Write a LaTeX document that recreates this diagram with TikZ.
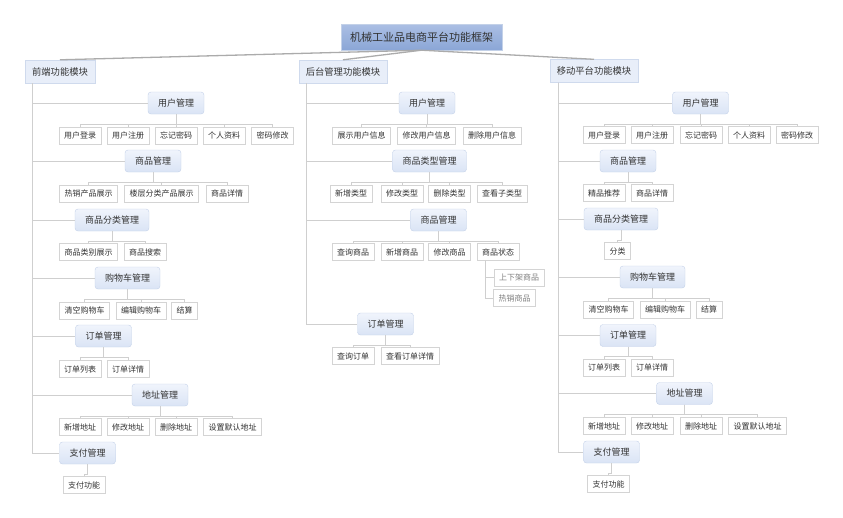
\documentclass[tikz,border=0pt]{standalone}
\usepackage{fontspec}
\setmainfont{Noto Sans CJK SC}
\usepackage{xcolor}
\definecolor{linegray}{HTML}{CFCFCF}
\definecolor{toplinegray}{HTML}{ABABAB}
\definecolor{leafborder}{HTML}{D4D4D4}
\definecolor{catborder}{HTML}{C3D1E8}
\definecolor{cattop}{HTML}{F0F4FC}
\definecolor{catbottom}{HTML}{DAE4F5}
\definecolor{modfill}{HTML}{E8EEF9}
\definecolor{titletop}{HTML}{ABBFE4}
\definecolor{titlebottom}{HTML}{8BA6D6}
\definecolor{textgray}{HTML}{333333}

\tikzset{
    titlebox/.style={draw=catborder, top color=titletop, bottom color=titlebottom,
        font=\fontsize{11}{11}\selectfont, text=textgray, inner xsep=9pt, minimum height=26pt},
    modbox/.style={draw=catborder!80, fill=modfill, font=\fontsize{9.3}{9.3}\selectfont,
        text=textgray, inner xsep=7pt, minimum height=23pt},
    catbox/.style={draw=catborder, top color=cattop, bottom color=catbottom, rounded corners=3pt,
        font=\fontsize{9}{9}\selectfont, text=textgray, inner xsep=10pt, minimum height=22pt},
    leaf/.style={draw=leafborder, fill=white, font=\fontsize{8}{8}\selectfont,
        text=textgray, inner xsep=5pt, minimum height=17pt},
    subleaf/.style={leaf, text=gray},
    link/.style={draw=linegray, line width=0.9pt},
    toplink/.style={draw=toplinegray, line width=1.3pt}
}

\begin{document}
\begin{tikzpicture}[x=1pt, y=-1pt]
    \useasboundingbox (0,0) rectangle (843,517); % page size of the reference

    \node[titlebox] (title) at (421.5,37) {机械工业品电商平台功能框架};
    \node[modbox] (front) at (60,71.5) {前端功能模块};
    \node[modbox] (back) at (343,71.5) {后台管理功能模块};
    \node[modbox] (mobile) at (594,71) {移动平台功能模块};
    \foreach \m in {front, back, mobile}
        \draw[toplink] (title.south) -- (\m.north);

    % front end
    \node[catbox] (fuser) at (176,103) {用户管理};
    \node[catbox] (fgoods) at (153,161) {商品管理};
    \node[catbox] (fclass) at (112,220) {商品分类管理};
    \node[catbox] (fcart) at (127.5,278) {购物车管理};
    \node[catbox] (forder) at (103.5,336) {订单管理};
    \node[catbox] (faddr) at (160,395) {地址管理};
    \node[catbox] (fpay) at (87.5,453) {支付管理};
    \foreach \c in {fuser, fgoods, fclass, fcart, forder, faddr, fpay}
        \draw[link] ([xshift=8pt]front.south west) |- (\c.west);

    \foreach \x/\t [count=\i] in {80/用户登录, 128/用户注册, 176/忘记密码, 224/个人资料, 272.5/密码修改}
        \node[leaf] (fuser\i) at (\x,135.5) {\t};
    \foreach \x/\t [count=\i] in {88.5/热销产品展示, 161.5/楼层分类产品展示, 227/商品详情}
        \node[leaf] (fgoods\i) at (\x,193.5) {\t};
    \foreach \x/\t [count=\i] in {88.5/商品类别展示, 145/商品搜索}
        \node[leaf] (fclass\i) at (\x,252) {\t};
    \foreach \x/\t [count=\i] in {84.5/清空购物车, 141/编辑购物车, 184.5/结算}
        \node[leaf] (fcart\i) at (\x,310.5) {\t};
    \foreach \x/\t [count=\i] in {80/订单列表, 128/订单详情}
        \node[leaf] (forder\i) at (\x,369) {\t};
    \foreach \x/\t [count=\i] in {80/新增地址, 128/修改地址, 176/删除地址, 232.5/设置默认地址}
        \node[leaf] (faddr\i) at (\x,427) {\t};
    \node[leaf] (fpay1) at (84,485) {支付功能};

    \foreach \c/\n in {fuser/5, fgoods/3, fclass/2, fcart/3, forder/2, faddr/4, fpay/1}
        \foreach \i in {1,...,\n}
            \draw[link] (\c.south) -- ++(0,10) -| (\c\i.north);

    % back end
    \node[catbox] (buser) at (427,103) {用户管理};
    \node[catbox] (btype) at (429.5,161) {商品类型管理};
    \node[catbox] (bgoods) at (438.5,220) {商品管理};
    \node[catbox] (border) at (385.5,324) {订单管理};
    \foreach \c in {buser, btype, bgoods, border}
        \draw[link] ([xshift=8pt]back.south west) |- (\c.west);

    \foreach \x/\t [count=\i] in {361.5/展示用户信息, 426.5/修改用户信息, 492/删除用户信息}
        \node[leaf] (buser\i) at (\x,135.5) {\t};
    \foreach \x/\t [count=\i] in {351/新增类型, 402/修改类型, 449.5/删除类型, 502/查看子类型}
        \node[leaf] (btype\i) at (\x,193.5) {\t};
    \foreach \x/\t [count=\i] in {353/查询商品, 402/新增商品, 449.5/修改商品, 498/商品状态}
        \node[leaf] (bgoods\i) at (\x,252) {\t};
    \foreach \x/\t [count=\i] in {353/查询订单, 410/查看订单详情}
        \node[leaf] (border\i) at (\x,356) {\t};

    \foreach \c/\n in {buser/3, btype/4, bgoods/4, border/2}
        \foreach \i in {1,...,\n}
            \draw[link] (\c.south) -- ++(0,10) -| (\c\i.north);

    \node[subleaf] (bshelf) at (519,277.5) {上下架商品};
    \node[subleaf] (bhot) at (514.5,298) {热销商品};
    \foreach \s in {bshelf, bhot}
        \draw[link] ([xshift=9pt]bgoods4.south west) |- (\s.west);

    % mobile
    \node[catbox] (muser) at (700.5,103) {用户管理};
    \node[catbox] (mgoods) at (628,161) {商品管理};
    \node[catbox] (mclass) at (621,219) {商品分类管理};
    \node[catbox] (mcart) at (652.5,277) {购物车管理};
    \node[catbox] (morder) at (628,335.5) {订单管理};
    \node[catbox] (maddr) at (684.5,393.5) {地址管理};
    \node[catbox] (mpay) at (611.5,452) {支付管理};
    \foreach \c in {muser, mgoods, mclass, mcart, morder, maddr, mpay}
        \draw[link] ([xshift=9pt]mobile.south west) |- (\c.west);

    \foreach \x/\t [count=\i] in {604/用户登录, 652/用户注册, 701/忘记密码, 749/个人资料, 797/密码修改}
        \node[leaf] (muser\i) at (\x,135) {\t};
    \foreach \x/\t [count=\i] in {604/精品推荐, 652/商品详情}
        \node[leaf] (mgoods\i) at (\x,193) {\t};
    \node[leaf] (mclass1) at (617.5,251) {分类};
    \foreach \x/\t [count=\i] in {608.5/清空购物车, 665/编辑购物车, 709/结算}
        \node[leaf] (mcart\i) at (\x,309.5) {\t};
    \foreach \x/\t [count=\i] in {604/订单列表, 652/订单详情}
        \node[leaf] (morder\i) at (\x,367.5) {\t};
    \foreach \x/\t [count=\i] in {604/新增地址, 652/修改地址, 701/删除地址, 757.5/设置默认地址}
        \node[leaf] (maddr\i) at (\x,426) {\t};
    \node[leaf] (mpay1) at (608.5,484) {支付功能};

    \foreach \c/\n in {muser/5, mgoods/2, mclass/1, mcart/3, morder/2, maddr/4, mpay/1}
        \foreach \i in {1,...,\n}
            \draw[link] (\c.south) -- ++(0,10) -| (\c\i.north);
\end{tikzpicture}
\end{document}
